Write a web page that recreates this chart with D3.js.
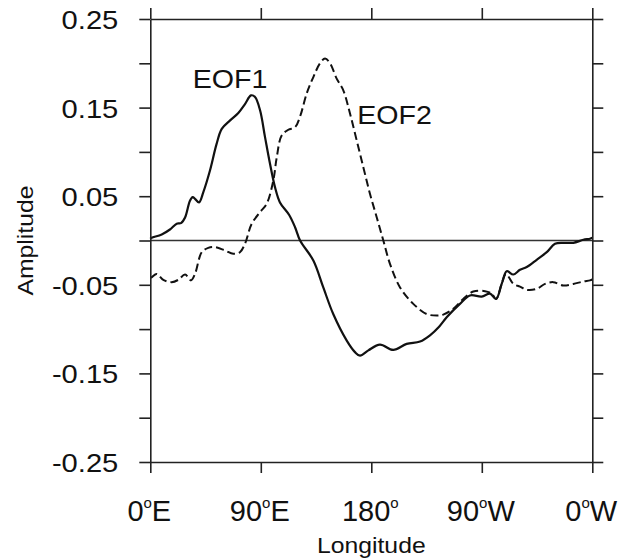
<!DOCTYPE html>
<html>
<head>
<meta charset="utf-8">
<script src="https://cdn.jsdelivr.net/npm/d3@7"></script>
<style>
  body { margin: 0; background: #fff; }
  svg text { font-family: "Liberation Sans", Arial, Helvetica, sans-serif; fill: #111; }
</style>
</head>
<body>
<div id="chart"></div>
<script>
// EOF amplitudes (longitude in degrees east, 0..360)
var eof1Lon = [0, 1.1, 9.3, 16, 21.5, 25, 28.3, 32.3, 34.5, 36.4, 39.7, 43.2, 48.6, 54, 58.2, 65, 71.7, 77.1, 82, 85.3,
  89.4, 93.4, 97.5, 101.6, 105.6, 113, 117.9, 122, 132.8, 140.9, 149, 160, 166.7, 170.8, 177.6, 187, 197.9, 208.8,
  219.7, 227.8, 235.4, 241.4, 252.2, 260.4, 269.9, 276.7, 281.6, 286.2, 290.3, 295.7, 301.1, 306.6, 314.7, 322.9,
  329.6, 336.4, 344.5, 352.7, 358.1, 360];
var eof1Val = [0.002, 0.003, 0.0068, 0.0124, 0.019, 0.0196, 0.026, 0.045, 0.049, 0.047, 0.043, 0.0546, 0.079, 0.109,
  0.126, 0.1356, 0.144, 0.154, 0.1638, 0.162, 0.147, 0.117, 0.0866, 0.060, 0.043, 0.029, 0.015, 0.0, -0.0226, -0.053,
  -0.083, -0.113, -0.126, -0.130, -0.124, -0.1175, -0.1235, -0.1167, -0.114, -0.107, -0.097, -0.0866, -0.0715, -0.062,
  -0.0633, -0.060, -0.066, -0.049, -0.0347, -0.0384, -0.0331, -0.030, -0.0218, -0.0132, -0.0037, -0.0026, -0.0026,
  0.0008, 0.002, 0.003];

var eof2Lon = [0, 1.1, 5.2, 10.6, 17.4, 22.8, 28.3, 33.2, 36.4, 41.9, 47.2, 52.7, 60.8, 67.6, 73, 77.1, 82.6, 89.4,
  94.8, 100.2, 103, 107, 112.4, 118, 122, 127.4, 132.8, 138.2, 142.3, 146.4, 151.8, 157.2, 162.7, 168.1, 173.5, 178.9,
  184.4, 189.8, 195.2, 203.4, 214.2, 225.1, 233.3, 238.6, 246.8, 254.9, 263.1, 272.6, 278, 281.6, 286.2, 289.7, 295.7,
  301.1, 306.6, 314.7, 321.5, 328.2, 336.4, 344.5, 352.7, 358.1, 360];
var eof2Val = [-0.042, -0.0415, -0.0377, -0.0444, -0.047, -0.0444, -0.0384, -0.045, -0.0377, -0.0132, -0.0083, -0.0075,
  -0.0113, -0.015, -0.0132, -0.0037, 0.0189, 0.032, 0.0414, 0.0678, 0.094, 0.1186, 0.125, 0.128, 0.140, 0.166, 0.1845,
  0.2, 0.2053, 0.20, 0.1827, 0.1695, 0.143, 0.113, 0.0828, 0.0528, 0.0263, 0.0, -0.0263, -0.053, -0.0715, -0.083,
  -0.0847, -0.0836, -0.077, -0.066, -0.0576, -0.0572, -0.060, -0.066, -0.049, -0.0377, -0.049, -0.052, -0.0557,
  -0.0546, -0.049, -0.047, -0.0508, -0.049, -0.0463, -0.045, -0.044];

var yTicks = [-0.25, -0.2, -0.15, -0.1, -0.05, 0, 0.05, 0.1, 0.15, 0.2, 0.25];
var yLabels = ["0.25", "0.15", "0.05", "-0.05", "-0.15", "-0.25"];
var xTicks = [0, 90, 180, 270, 360];
var xLabels = [["0", "E"], ["90", "E"], ["180", ""], ["90", "W"], ["0", "W"]];

var width = 629, height = 560;
var plot = { left: 150.3, right: 592.3, top: 19, bottom: 462 };

var svg = d3.select("#chart").append("svg")
  .attr("width", width)
  .attr("height", height);

var x = d3.scaleLinear().domain([0, 360]).range([plot.left, plot.right]);
var y = d3.scaleLinear().domain([-0.25, 0.25]).range([plot.bottom, plot.top]);

// zero reference line
svg.append("line")
  .attr("x1", x(0)).attr("x2", x(360))
  .attr("y1", y(0)).attr("y2", y(0))
  .attr("stroke", "#333").attr("stroke-width", 1.4);

// curves
var line = d3.line()
  .x(function(d) { return x(d[0]); })
  .y(function(d) { return y(d[1]); })
  .curve(d3.curveCatmullRom.alpha(0.5));

var eof1 = eof1Lon.map(function(l, i) { return [l, eof1Val[i]]; });
var eof2 = eof2Lon.map(function(l, i) { return [l, eof2Val[i]]; });

svg.append("path").datum(eof2)
  .attr("d", line)
  .attr("fill", "none")
  .attr("stroke", "#111")
  .attr("stroke-width", 2)
  .attr("stroke-dasharray", "8,4");

svg.append("path").datum(eof1)
  .attr("d", line)
  .attr("fill", "none")
  .attr("stroke", "#111")
  .attr("stroke-width", 2.2);

// frame with outward ticks
function styleAxis(g) {
  g.selectAll("path, line").attr("stroke", "#222").attr("stroke-width", 1.6);
  g.selectAll("text").remove();
}
var tickLen = 11;
svg.append("g").attr("transform", "translate(" + plot.left + ",0)")
  .call(d3.axisLeft(y).tickValues(yTicks).tickSize(tickLen).tickSizeOuter(0)).call(styleAxis);
svg.append("g").attr("transform", "translate(" + plot.right + ",0)")
  .call(d3.axisRight(y).tickValues(yTicks).tickSize(tickLen).tickSizeOuter(0)).call(styleAxis);
svg.append("g").attr("transform", "translate(0," + plot.top + ")")
  .call(d3.axisTop(x).tickValues(xTicks).tickSize(tickLen).tickSizeOuter(0)).call(styleAxis);
svg.append("g").attr("transform", "translate(0," + plot.bottom + ")")
  .call(d3.axisBottom(x).tickValues(xTicks).tickSize(tickLen).tickSizeOuter(0)).call(styleAxis);
svg.selectAll(".domain").attr("fill", "none");

// y tick labels (slightly wide Helvetica look)
svg.selectAll(".ylab").data(yLabels).enter().append("text")
  .attr("class", "ylab")
  .attr("text-anchor", "end")
  .attr("font-size", 26.5)
  .attr("transform", function(d) { return "translate(118.3," + (y(+d) + 10) + ") scale(1.1,1)"; })
  .text(function(d) { return d; });

// x tick labels with superscript degree
var xl = svg.selectAll(".xlab").data(xTicks).enter().append("text")
  .attr("class", "xlab")
  .attr("text-anchor", "middle")
  .attr("font-size", 29)
  .attr("x", function(d) { return x(d) - 1; })
  .attr("y", 520.5);
xl.append("tspan").text(function(d, i) { return xLabels[i][0]; });
xl.append("tspan").attr("font-size", 15).attr("dy", -13).text("o");
xl.append("tspan").attr("dy", 13).text(function(d, i) { return xLabels[i][1]; });

// axis titles
svg.append("text")
  .attr("text-anchor", "middle")
  .attr("font-size", 22.5)
  .attr("transform", "translate(" + ((plot.left + plot.right) / 2) + ",552.5) scale(1.1,1)")
  .text("Longitude");

svg.append("text")
  .attr("text-anchor", "middle")
  .attr("font-size", 22.5)
  .attr("transform", "translate(33.3," + y(0) + ") rotate(-90) scale(1.1,1)")
  .text("Amplitude");

// curve labels
svg.append("text")
  .attr("font-size", 26)
  .attr("transform", "translate(192.7,88.3) scale(1.1,1)")
  .text("EOF1");
svg.append("text")
  .attr("font-size", 26)
  .attr("transform", "translate(357.3,124) scale(1.1,1)")
  .text("EOF2");
</script>
</body>
</html>
